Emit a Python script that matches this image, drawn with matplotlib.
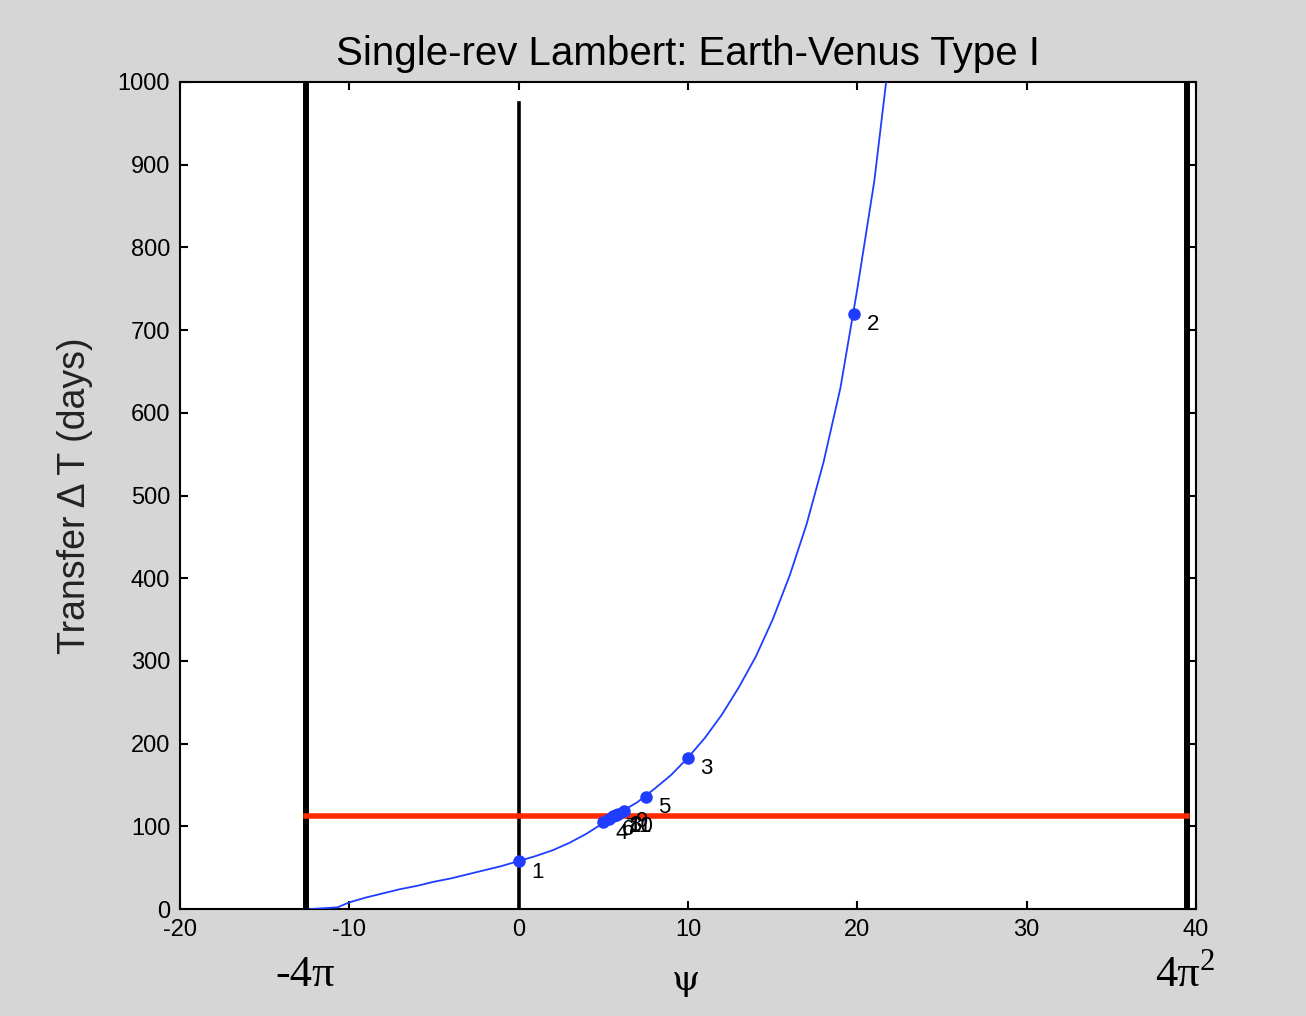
import numpy as np
from matplotlib import pyplot as plt

plt.rcParams["axes.unicode_minus"] = False

# TOF curve dt(psi)
psi = [-12.3, -11.5, -10.7, -10.0, -9.0, -8.0, -7.0, -6.0, -5.0, -4.0, -3.0,
       -2.0, -1.0, 0.0, 1.0, 2.0, 3.0, 4.0, 5.0, 6.0, 7.0, 8.0, 9.0, 10.0,
       11.0, 12.0, 13.0, 14.0, 15.0, 16.0, 17.0, 18.0, 19.0, 20.0, 21.0, 21.7]
dt = [0, 1, 2, 8, 14, 19, 24, 28, 33, 37, 42,
      47, 52, 58, 64, 71, 80, 91, 104, 117, 129, 145, 162, 183,
      207, 235, 268, 305, 350, 403, 465, 540, 630, 750, 880, 1000]

# iterates of the solver
mk_psi = [0.0, 19.8, 10.0, 5.0, 7.5, 5.35, 5.6, 5.85, 6.2, 5.75, 5.72]
mk_dt = [58, 720, 183, 105, 136, 109, 112, 115, 119, 113.5, 113.2]
mk_lbl = ["1", "2", "3", "4", "5", "6", "7", "8", "9", "10", "11"]

dt_target = 113
psi_lo = -4 * np.pi
psi_hi = 4 * np.pi ** 2

xticks = [-20, -10, 0, 10, 20, 30, 40]
yticks = list(range(0, 1001, 100))

bg = "#d6d6d6"
fig = plt.figure(figsize=(13.06, 10.16), dpi=100, facecolor=bg)
ax = fig.add_axes([0.1378, 0.1053, 0.778, 0.814])

ax.plot(psi, dt, color="#1f3dff", lw=1.3, zorder=3)
ax.plot(mk_psi, mk_dt, "o", color="#1f3dff", ms=8, zorder=4)
for px, py, s in zip(mk_psi, mk_dt, mk_lbl):
    ax.annotate(s, (px, py), xytext=(9, -8), textcoords="offset points",
                ha="left", va="center", fontsize=16, family="Liberation Sans",
                color="black", zorder=5)

ax.axvline(psi_lo, color="black", lw=4.3, zorder=2)
ax.axvline(psi_hi, color="black", lw=4.3, zorder=2)
ax.plot([0, 0], [0, 975], color="black", lw=2.6, zorder=2)
ax.plot([psi_lo, psi_hi], [dt_target, dt_target], color="#ff2a00", lw=4, zorder=2)

ax.set_xlim(-20, 40)
ax.set_ylim(0, 1000)
ax.set_xticks(xticks)
ax.set_yticks(yticks)
ax.tick_params(direction="in", length=6, width=1.5, top=True, right=True,
               labelsize=17, pad=7)
for lab in ax.get_xticklabels() + ax.get_yticklabels():
    lab.set_family("Liberation Sans")
for sp in ax.spines.values():
    sp.set_linewidth(1.5)

ax.set_title("Single-rev Lambert: Earth-Venus Type I", fontsize=29,
             family="Liberation Sans", pad=12)
ax.set_ylabel("Transfer \u0394 T (days)", fontsize=27, family="Liberation Sans",
              color="#222222", labelpad=18)

fig.text(305 / 1306, 1 - 975 / 1016, "-4\u03c0", fontsize=32,
         family="Liberation Serif", ha="center", va="center")
fig.text(686 / 1306, 1 - 980 / 1016, "\u03c8", fontsize=26,
         family="DejaVu Serif", ha="center", va="center")
fig.text(1200 / 1306, 1 - 975 / 1016, "4\u03c0", fontsize=32,
         family="Liberation Serif", ha="right", va="center")
fig.text(1200 / 1306, 1 - 962 / 1016, "2", fontsize=22,
         family="Liberation Serif", ha="left", va="center")

fig.savefig("out.png", dpi=100, facecolor=bg)
